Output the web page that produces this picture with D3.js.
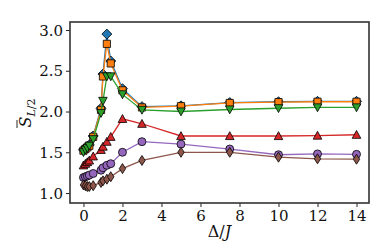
<!DOCTYPE html>
<html>
<head>
<meta charset="utf-8">
<script src="https://cdn.jsdelivr.net/npm/d3@7"></script>
<style>
  body { margin: 0; background: #fff; }
  svg { display: block; }
</style>
</head>
<body>
<svg id="chart" width="374" height="241"></svg>
<script>
// Data
var deltas = [0, 0.1, 0.2, 0.3, 0.5, 0.9, 1.0, 1.2, 1.4, 2, 3, 5, 7.5, 10, 12, 14];
var blueVals   = [1.53, 1.55, 1.57, 1.59, 1.70, 2.04, 2.46, 2.95, 2.62, 2.28, 2.06, 2.07, 2.11, 2.12, 2.125, 2.125];
var orangeVals = [1.52, 1.54, 1.56, 1.58, 1.69, 2.02, 2.43, 2.83, 2.59, 2.26, 2.05, 2.065, 2.105, 2.115, 2.12, 2.12];
var greenVals  = [1.50, 1.53, 1.55, 1.58, 1.66, 1.98, 2.13, 2.43, 2.43, 2.21, 2.02, 2.00, 2.025, 2.04, 2.05, 2.05];
var redVals    = [1.34, 1.36, 1.38, 1.40, 1.45, 1.53, 1.57, 1.63, 1.69, 1.91, 1.85, 1.70, 1.70, 1.70, 1.705, 1.715];
var purpleVals = [1.19, 1.20, 1.21, 1.22, 1.24, 1.28, 1.31, 1.34, 1.36, 1.50, 1.63, 1.60, 1.54, 1.47, 1.48, 1.475];
var brownVals  = [1.10, 1.09, 1.08, 1.08, 1.09, 1.13, 1.15, 1.17, 1.20, 1.30, 1.40, 1.50, 1.50, 1.44, 1.42, 1.415];
var xTicks = [0, 2, 4, 6, 8, 10, 12, 14];
var yTicks = [1.0, 1.5, 2.0, 2.5, 3.0];

var series = [
    { vals: blueVals,   color: "#1f77b4", marker: "D" },
    { vals: orangeVals, color: "#ff7f0e", marker: "s" },
    { vals: greenVals,  color: "#2ca02c", marker: "v" },
    { vals: redVals,    color: "#d62728", marker: "^" },
    { vals: purpleVals, color: "#9467bd", marker: "o" },
    { vals: brownVals,  color: "#8c564b", marker: "d" }
];

var FONT = "DejaVu Serif";
var svg = d3.select("#chart");
var pLeft = 70, pRight = 369, pTop = 22, pBottom = 203;

var x = d3.scaleLinear().domain([-0.69, 14.64]).range([pLeft, pRight]);
var y = d3.scaleLinear().domain([0.878, 3.098]).range([pBottom, pTop]);

// Marker shapes
function markerPath(m) {
    if (m == "s") return "M-3.6,-3.6H3.6V3.6H-3.6Z";
    if (m == "D") return "M0,-5L5,0L0,5L-5,0Z";
    if (m == "d") return "M0,-5L3.2,0L0,5L-3.2,0Z";
    if (m == "^") return "M0,-4.3L4.3,3.6L-4.3,3.6Z";
    if (m == "v") return "M0,4.3L4.3,-3.6L-4.3,-3.6Z";
    return d3.symbol(d3.symbolCircle, 50)();
}

// Axes
var xAxis = d3.axisBottom(x).tickValues(xTicks).tickSize(4).tickPadding(3)
    .tickFormat(d3.format("d"));
var yAxis = d3.axisLeft(y).tickValues(yTicks).tickSize(4).tickPadding(3)
    .tickFormat(d3.format(".1f"));

var gx = svg.append("g").attr("transform", "translate(0," + pBottom + ")").call(xAxis);
var gy = svg.append("g").attr("transform", "translate(" + pLeft + ",0)").call(yAxis);
[gx, gy].forEach(function (g) {
    g.attr("font-family", FONT);
    g.select(".domain").remove();
    g.selectAll(".tick line").attr("stroke", "#222").attr("stroke-width", 1);
    g.selectAll(".tick text").attr("font-size", 15).attr("fill", "#111");
});
gy.selectAll(".tick text").attr("dy", "0.34em");

// Series lines and markers
var line = d3.line().x(function (d) { return x(d[0]); }).y(function (d) { return y(d[1]); });
series.forEach(function (s) {
    var pts = deltas.map(function (d, i) { return [d, s.vals[i]]; });
    var g = svg.append("g");
    g.append("path")
        .attr("d", line(pts))
        .attr("fill", "none")
        .attr("stroke", s.color)
        .attr("stroke-width", 1.3);
    g.selectAll("path.mk").data(pts).enter().append("path")
        .attr("class", "mk")
        .attr("d", markerPath(s.marker))
        .attr("transform", function (d) { return "translate(" + x(d[0]) + "," + y(d[1]) + ")"; })
        .attr("fill", s.color)
        .attr("stroke", "#000")
        .attr("stroke-width", 0.8);
});

// Frame
svg.append("rect")
    .attr("x", pLeft).attr("y", pTop)
    .attr("width", pRight - pLeft).attr("height", pBottom - pTop)
    .attr("fill", "none").attr("stroke", "#333").attr("stroke-width", 1.6);

// Axis labels
var xl = svg.append("text")
    .attr("x", (pLeft + pRight) / 2).attr("y", 237)
    .attr("font-family", FONT)
    .attr("text-anchor", "middle").attr("font-size", 16).attr("fill", "#111");
xl.append("tspan").text("Δ/");
xl.append("tspan").attr("font-style", "italic").text("J");

var yl = svg.append("g").attr("transform", "translate(31,113) rotate(-90)");
var yt = yl.append("text").attr("text-anchor", "middle").attr("font-size", 16)
    .attr("font-family", FONT).attr("fill", "#111");
yt.append("tspan").attr("font-style", "italic").text("S");
yt.append("tspan").attr("font-size", 11).attr("dy", 4).attr("font-style", "italic").text("L");
yt.append("tspan").attr("font-size", 11).text("/2");
yl.append("line")
    .attr("x1", -15).attr("x2", -7).attr("y1", -14).attr("y2", -14)
    .attr("stroke", "#111").attr("stroke-width", 0.9);
</script>
</body>
</html>
